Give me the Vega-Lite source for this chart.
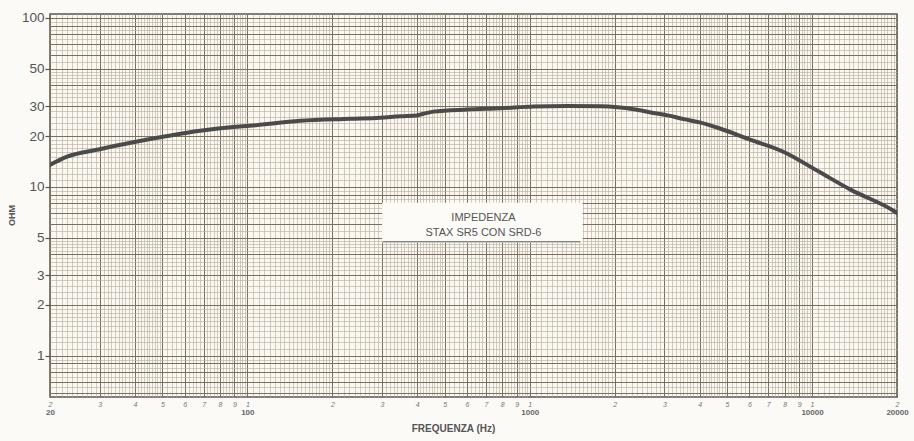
{
  "$schema": "https://vega.github.io/schema/vega-lite/v6.json",
  "width": 847,
  "height": 383,
  "autosize": {"type": "none"},
  "padding": {"left": 50, "top": 14, "right": 17, "bottom": 44},
  "background": "#fbfaf6",
  "config": {
    "view": {"stroke": "#5a5550", "strokeWidth": 1.5, "fill": "#faf8f1"},
    "font": "Liberation Sans"
  },
  "datasets": {
    "curve": [
      {"freq": 20, "ohm": 13.5}, {"freq": 23, "ohm": 15.1}, {"freq": 30, "ohm": 16.7},
      {"freq": 39, "ohm": 18.3}, {"freq": 52, "ohm": 20.0}, {"freq": 68, "ohm": 21.5},
      {"freq": 89, "ohm": 22.6}, {"freq": 102, "ohm": 23.0}, {"freq": 154, "ohm": 24.6},
      {"freq": 232, "ohm": 25.3}, {"freq": 296, "ohm": 25.7}, {"freq": 348, "ohm": 26.2},
      {"freq": 400, "ohm": 26.5}, {"freq": 420, "ohm": 27.1}, {"freq": 456, "ohm": 27.9},
      {"freq": 602, "ohm": 28.7}, {"freq": 788, "ohm": 29.2}, {"freq": 1033, "ohm": 29.9},
      {"freq": 1362, "ohm": 30.1}, {"freq": 1784, "ohm": 30.0}, {"freq": 2048, "ohm": 29.6},
      {"freq": 2335, "ohm": 28.8}, {"freq": 2687, "ohm": 27.6}, {"freq": 3080, "ohm": 26.5},
      {"freq": 3513, "ohm": 25.2}, {"freq": 4036, "ohm": 24.0}, {"freq": 4635, "ohm": 22.4},
      {"freq": 6068, "ohm": 19.0}, {"freq": 7946, "ohm": 16.1}, {"freq": 10490, "ohm": 12.4},
      {"freq": 13740, "ohm": 9.6}, {"freq": 19500, "ohm": 7.2}, {"freq": 20000, "ohm": 7.0}
    ],
    "labels": [
      {"freq": 686, "ohm": 6.56, "text": "IMPEDENZA"},
      {"freq": 686, "ohm": 5.34, "text": "STAX SR5 CON SRD-6"}
    ],
    "box": [{"f1": 300, "f2": 1540, "o1": 8.05, "o2": 4.67}],
    "underline": [{"f1": 301, "f2": 1514, "ohm": 4.73}]
  },
  "resolve": {"axis": {"x": "independent", "y": "independent"}},
  "layer": [
    {
      "data": {"name": "curve"},
      "mark": {"type": "line", "opacity": 0},
      "encoding": {
        "x": {"field": "freq", "type": "quantitative",
          "scale": {"type": "log", "domain": [20, 20000], "nice": false},
          "axis": {"orient": "bottom", "grid": true, "gridColor": "#b5ac9d", "gridWidth": 0.6,
            "labels": false, "ticks": false, "domain": false, "title": null,
            "values": [20,21,22,23,24,25,26,27,28,29,30,31,32,33,34,35,36,37,38,39,40,41,42,43,44,45,46,47,48,49,50,
              52,54,56,58,60,62,64,66,68,70,72,74,76,78,80,82,84,86,88,90,92,94,96,98,
              100,105,110,115,120,125,130,135,140,145,150,155,160,165,170,175,180,185,190,195,
              200,210,220,230,240,250,260,270,280,290,300,310,320,330,340,350,360,370,380,390,400,410,420,430,440,450,460,470,480,490,
              500,520,540,560,580,600,620,640,660,680,700,720,740,760,780,800,820,840,860,880,900,920,940,960,980,
              1000,1050,1100,1150,1200,1250,1300,1350,1400,1450,1500,1550,1600,1650,1700,1750,1800,1850,1900,1950,
              2000,2100,2200,2300,2400,2500,2600,2700,2800,2900,3000,3100,3200,3300,3400,3500,3600,3700,3800,3900,4000,4100,4200,4300,4400,4500,4600,4700,4800,4900,
              5000,5200,5400,5600,5800,6000,6200,6400,6600,6800,7000,7200,7400,7600,7800,8000,8200,8400,8600,8800,9000,9200,9400,9600,9800,
              10000,10500,11000,11500,12000,12500,13000,13500,14000,14500,15000,15500,16000,16500,17000,17500,18000,18500,19000,19500,20000]}},
        "y": {"field": "ohm", "type": "quantitative",
          "scale": {"type": "log", "domain": [0.57, 105.6], "nice": false},
          "axis": {"orient": "left", "grid": true, "gridColor": "#b5ac9d", "gridWidth": 0.6,
            "labels": false, "ticks": false, "domain": false, "title": null,
            "values": [0.6,0.65,0.7,0.75,0.8,0.85,0.9,0.95,1,1.1,1.2,1.3,1.4,1.5,1.6,1.7,1.8,1.9,2,2.2,2.4,2.6,2.8,3,3.2,3.4,3.6,3.8,4,4.2,4.4,4.6,4.8,5,5.5,6,6.5,7,7.5,8,8.5,9,9.5,10,11,12,13,14,15,16,17,18,19,20,22,24,26,28,30,32,34,36,38,40,42,44,46,48,50,55,60,65,70,75,80,85,90,95,100]}}
      }
    },
    {
      "data": {"name": "curve"},
      "mark": {"type": "line", "opacity": 0},
      "encoding": {
        "x": {"field": "freq", "type": "quantitative",
          "scale": {"type": "log", "domain": [20, 20000], "nice": false},
          "axis": {"orient": "bottom", "grid": true, "gridColor": "#786f61", "gridWidth": 1,
            "ticks": false, "domain": false, "title": null, "labelOverlap": false, "labelFlush": false,
            "labelExpr": "format(round(datum.value / pow(10, floor(log(datum.value) / LN10 + 0.000001))), 'd')",
            "labelFontSize": 7, "labelFontStyle": "italic", "labelColor": "#777", "labelPadding": 3,
            "values": [20,30,40,50,60,70,80,90,100,200,300,400,500,600,700,800,900,1000,2000,3000,4000,5000,6000,7000,8000,9000,10000,20000]}},
        "y": {"field": "ohm", "type": "quantitative",
          "scale": {"type": "log", "domain": [0.57, 105.6], "nice": false},
          "axis": {"orient": "left", "grid": true, "gridColor": "#786f61", "gridWidth": 1,
            "labels": false, "ticks": false, "domain": false, "title": null,
            "values": [0.6,0.7,0.8,0.9,1,2,3,4,5,6,7,8,9,10,20,30,40,50,60,70,80,90,100]}}
      }
    },
    {
      "data": {"name": "curve"},
      "mark": {"type": "line", "opacity": 0},
      "encoding": {
        "x": {"field": "freq", "type": "quantitative",
          "scale": {"type": "log", "domain": [20, 20000], "nice": false},
          "axis": {"orient": "bottom", "grid": false, "ticks": false, "domain": false,
            "values": [20, 100, 1000, 10000, 20000], "format": "d", "labelFlush": false, "labelOverlap": false,
            "labelFontSize": 8, "labelFontWeight": "bold", "labelColor": "#666", "labelPadding": 11,
            "title": "FREQUENZA (Hz)", "titleFontSize": 10, "titleFontWeight": "bold", "titleColor": "#555",
            "titleX": 403, "titlePadding": 7}},
        "y": {"field": "ohm", "type": "quantitative",
          "scale": {"type": "log", "domain": [0.57, 105.6], "nice": false},
          "axis": {"orient": "left", "grid": false, "domain": false, "ticks": true, "tickSize": 5,
            "tickColor": "#555", "tickWidth": 1.2, "values": [1, 2, 3, 5, 10, 20, 30, 50, 100], "format": "d",
            "labelFontSize": 13.5, "labelColor": "#555", "labelPadding": 1,
            "title": "OHM", "titleFontSize": 9, "titleFontWeight": "bold", "titleColor": "#555",
            "titleX": -34, "titleY": 201}}
      }
    },
    {
      "data": {"name": "box"},
      "mark": {"type": "rect", "fill": "#fcfbf8"},
      "encoding": {
        "x": {"field": "f1", "type": "quantitative", "scale": {"type": "log", "domain": [20, 20000], "nice": false}, "axis": null},
        "x2": {"field": "f2"},
        "y": {"field": "o1", "type": "quantitative", "scale": {"type": "log", "domain": [0.57, 105.6], "nice": false}, "axis": null},
        "y2": {"field": "o2"}
      }
    },
    {
      "data": {"name": "underline"},
      "mark": {"type": "rule", "color": "#555", "strokeWidth": 1},
      "encoding": {
        "x": {"field": "f1", "type": "quantitative", "scale": {"type": "log", "domain": [20, 20000], "nice": false}, "axis": null},
        "x2": {"field": "f2"},
        "y": {"field": "ohm", "type": "quantitative", "scale": {"type": "log", "domain": [0.57, 105.6], "nice": false}, "axis": null}
      }
    },
    {
      "data": {"name": "labels"},
      "mark": {"type": "text", "fontSize": 11, "letterSpacing": 0.6, "color": "#555", "align": "center", "baseline": "middle"},
      "encoding": {
        "x": {"field": "freq", "type": "quantitative", "scale": {"type": "log", "domain": [20, 20000], "nice": false}, "axis": null},
        "y": {"field": "ohm", "type": "quantitative", "scale": {"type": "log", "domain": [0.57, 105.6], "nice": false}, "axis": null},
        "text": {"field": "text"}
      }
    },
    {
      "data": {"name": "curve"},
      "mark": {"type": "line", "color": "#4a4a4a", "strokeWidth": 4, "interpolate": "monotone", "strokeCap": "round", "clip": true},
      "encoding": {
        "x": {"field": "freq", "type": "quantitative", "scale": {"type": "log", "domain": [20, 20000], "nice": false}, "axis": null},
        "y": {"field": "ohm", "type": "quantitative", "scale": {"type": "log", "domain": [0.57, 105.6], "nice": false}, "axis": null}
      }
    }
  ]
}
